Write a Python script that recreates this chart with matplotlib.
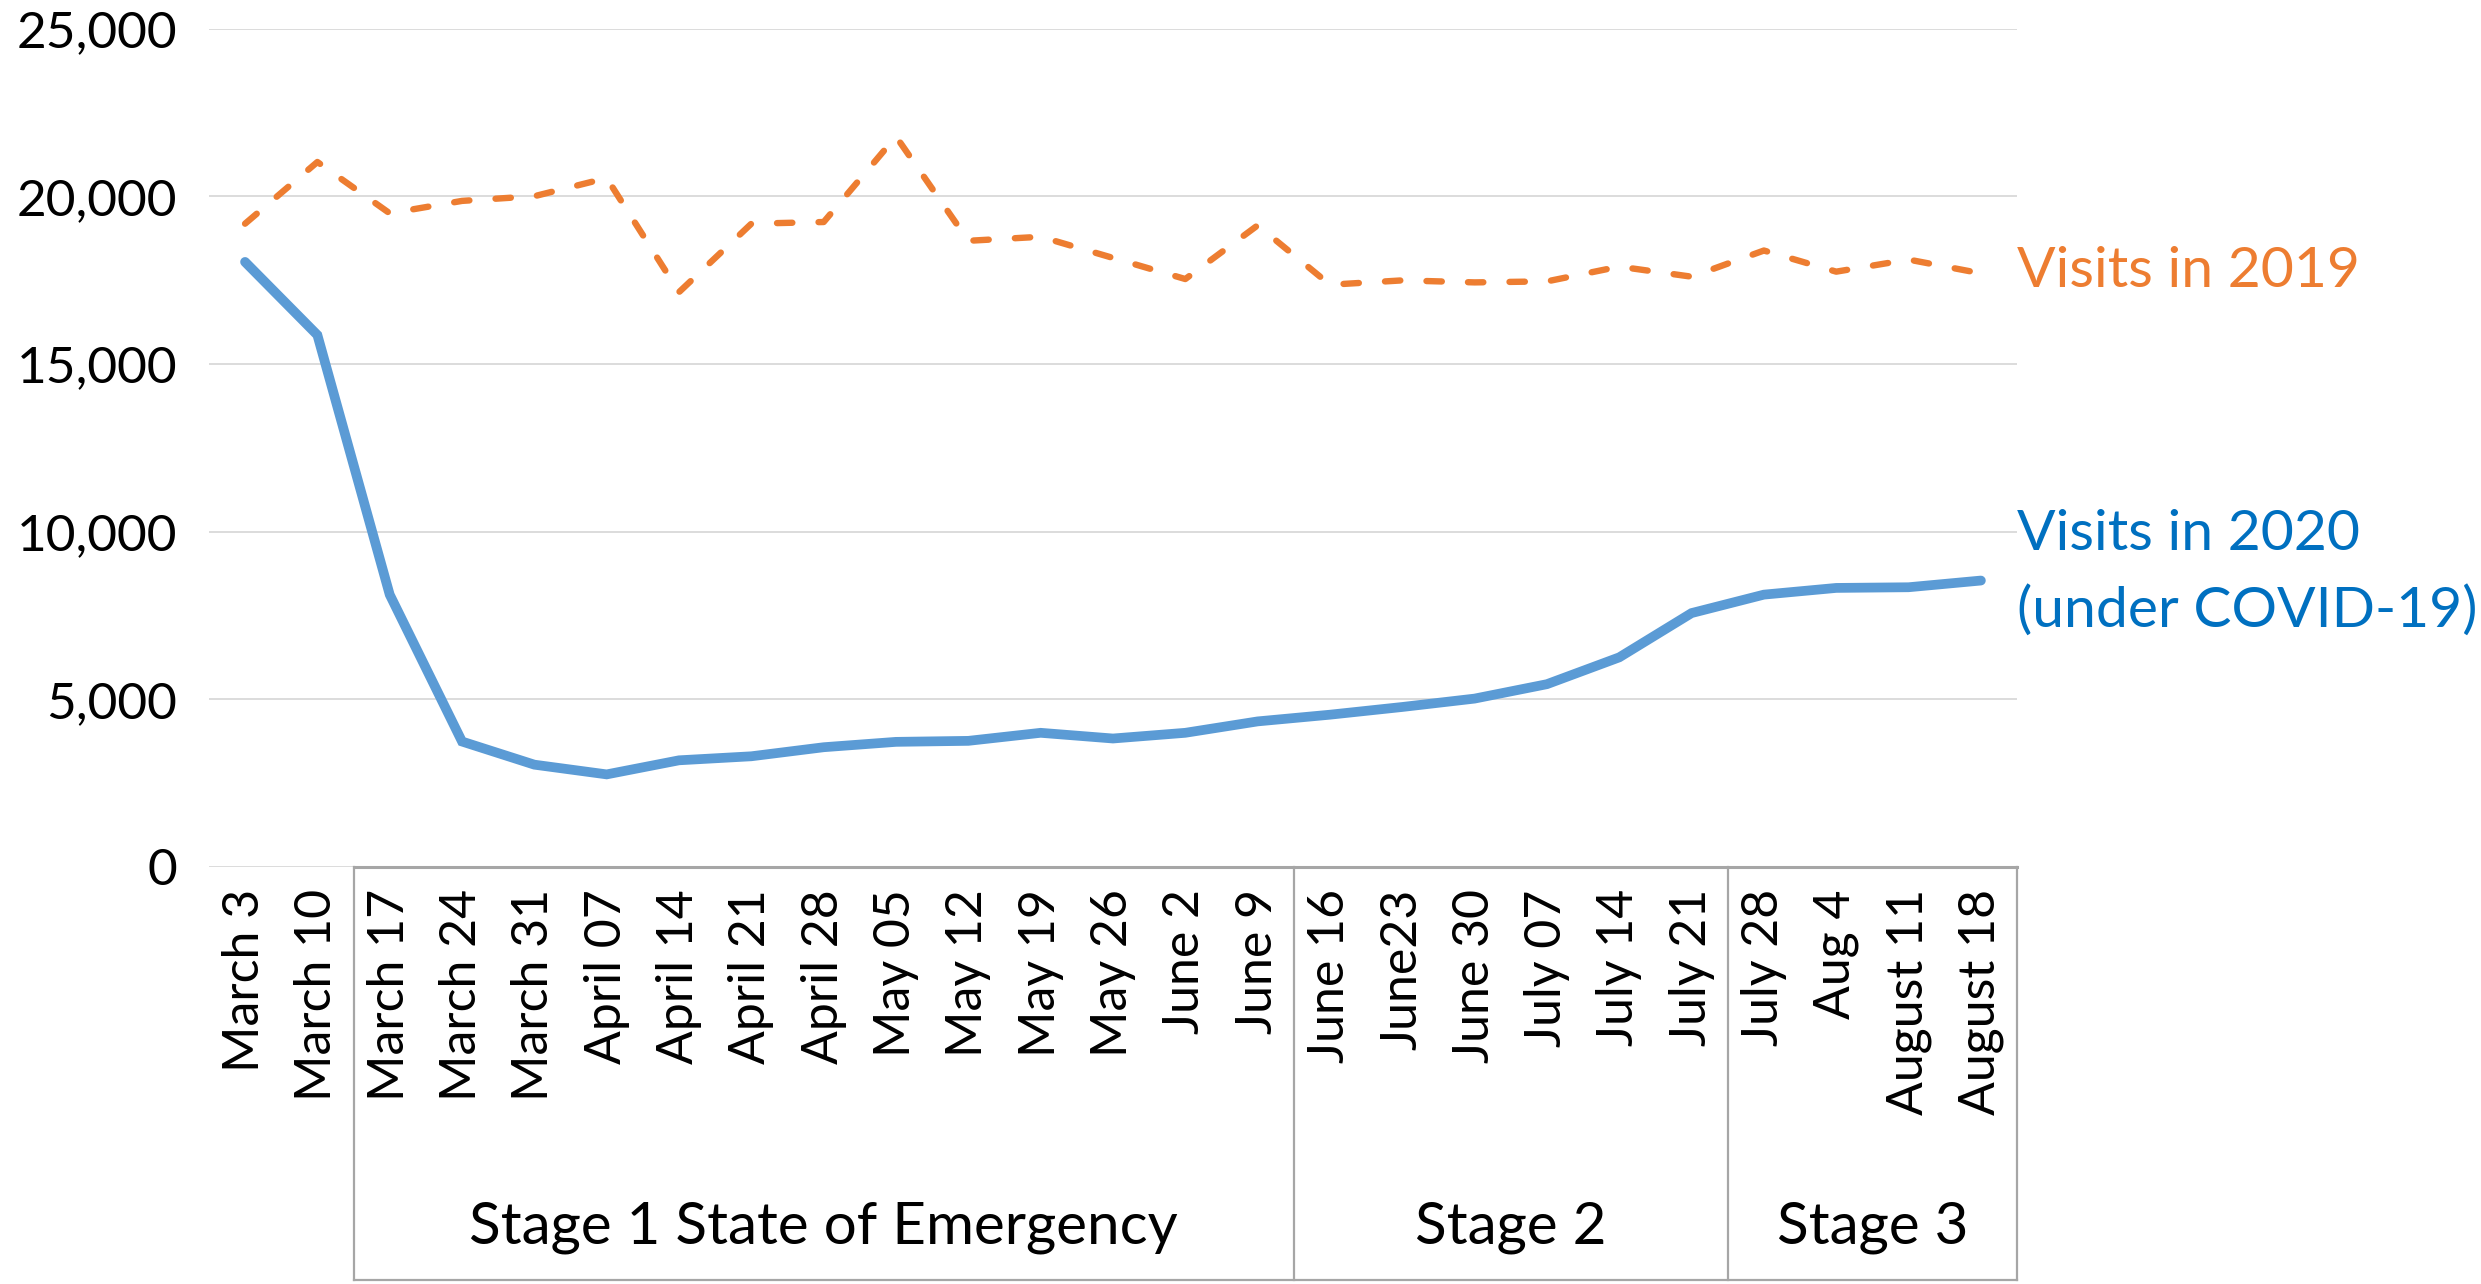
import matplotlib.pyplot as plt
import matplotlib.transforms as mtransforms

plt.rcParams['font.family'] = ['Lato', 'DejaVu Sans']

# weekly dates (x axis categories)
weeks = ['March 3', 'March 10', 'March 17', 'March 24', 'March 31',
         'April 07', 'April 14', 'April 21', 'April 28', 'May 05',
         'May 12', 'May 19', 'May 26', 'June 2', 'June 9',
         'June 16', 'June23', 'June 30', 'July 07', 'July 14', 'July 21',
         'July 28', 'Aug 4', 'August 11', 'August 18']

visits_2019 = [19180, 21020, 19490, 19860, 20000, 20540, 17140, 19180, 19230,
               21780, 18670, 18790, 18160, 17530, 19130, 17360, 17490, 17430,
               17460, 17900, 17600, 18380, 17750, 18110, 17700]

visits_2020 = [18040, 15860, 8120, 3740, 3050, 2760, 3180, 3300, 3570,
               3730, 3760, 4000, 3830, 4000, 4340, 4540, 4770, 5020,
               5450, 6250, 7570, 8120, 8320, 8340, 8540]

# stage groups: (label, first index, last index)
stages = [('Stage 1 State of Emergency', 2, 14),
          ('Stage 2', 15, 20),
          ('Stage 3', 21, 24)]

yticks = [0, 5000, 10000, 15000, 20000, 25000]

ORANGE = '#ED7D31'
BLUE = '#5B9BD5'
BLUE_TXT = '#0070C0'
GRID = '#D9D9D9'
BOX = '#A6A6A6'

fig = plt.figure(figsize=(24.81, 12.84), dpi=100)
ax = fig.add_axes([0.0842, 0.3248, 0.813 - 0.0842, 0.9778 - 0.3248])

x = list(range(len(weeks)))

ax.plot(x, visits_2019, color=ORANGE, lw=4.6, dashes=(2.4, 4.1),
        dash_capstyle='round', solid_capstyle='round', zorder=3)
ax.plot(x, visits_2020, color=BLUE, lw=7, solid_capstyle='round',
        solid_joinstyle='miter', zorder=3)

ax.set_xlim(-0.5, len(weeks) - 0.5)
ax.set_ylim(0, 25000)
ax.set_yticks(yticks)
ax.set_yticklabels(['{:,}'.format(v) for v in yticks])
ax.set_xticks(x)
ax.set_xticklabels(weeks, rotation=90, va='top', ha='center')

ax.tick_params(axis='y', length=0, pad=23, labelsize=37)
ax.tick_params(axis='x', length=0, pad=16, labelsize=36)

for s in ax.spines.values():
    s.set_visible(False)

for v in yticks:
    ax.axhline(v, color=GRID, lw=1.3, zorder=1)

# group boxes under the axis
tr = mtransforms.blended_transform_factory(ax.transData, ax.transAxes)
box_bottom = -0.4926
x0 = stages[0][1] - 0.5
x1 = stages[-1][2] + 0.5
ax.plot([x0, x1], [0, 0], color=BOX, lw=2.2, transform=tr, clip_on=False, zorder=2)
ax.plot([x0, x1], [box_bottom, box_bottom], color=BOX, lw=1.6, transform=tr, clip_on=False)
for name, a, b in stages:
    ax.plot([a - 0.5, a - 0.5], [0, box_bottom], color=BOX, lw=1.6,
            transform=tr, clip_on=False)
    ax.text((a + b) / 2, -0.4305, name, transform=tr, ha='center', va='center',
            fontsize=42)
ax.plot([x1, x1], [0, box_bottom], color=BOX, lw=1.6, transform=tr, clip_on=False)

# series labels on the right
ax.text(len(weeks) - 0.5, 17740, 'Visits in 2019', color=ORANGE, fontsize=41,
        ha='left', va='center')
ax.text(len(weeks) - 0.5, 9900, 'Visits in 2020', color=BLUE_TXT, fontsize=41,
        ha='left', va='center')
ax.text(len(weeks) - 0.5, 7630, '(under COVID-19)', color=BLUE_TXT, fontsize=41,
        ha='left', va='center')

fig.savefig('out.png', dpi=100)
